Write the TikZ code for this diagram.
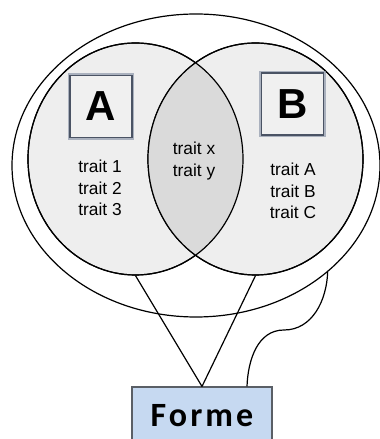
\documentclass[tikz,border=0pt]{standalone}
\usepackage{fontspec}
\setmainfont{Liberation Sans}
\newfontfamily\formefont{Carlito}
\usetikzlibrary{shapes.geometric}
\definecolor{setgray}{HTML}{EEEEEE}
\definecolor{lensgray}{HTML}{DADADA}
\definecolor{glowc}{HTML}{8E98AA}
\definecolor{framec}{HTML}{4A5364}
\definecolor{formeblue}{HTML}{C6D9F1}
\definecolor{formeline}{HTML}{5A5F66}

\begin{document}
\begin{tikzpicture}[
    x=0.75pt, y=0.75pt,
    line width=0.9pt,
    outer/.style={ellipse, draw, fill=white, inner sep=0pt, minimum width=276pt, minimum height=227.25pt},
    setc/.style={ellipse, draw, fill=setgray, inner sep=0pt, minimum width=161.25pt, minimum height=174pt},
    glowbox/.style={rectangle, preaction={draw=glowc, line width=3.6pt, opacity=0.7}, draw=framec, line width=1.1pt, fill=setgray!90!white, minimum size=46.5pt, inner sep=0pt, font=\fontsize{31.5}{31.5}\selectfont\bfseries},
    traits/.style={align=center, font=\fontsize{13}{16}\selectfont},
    forme/.style={rectangle, draw=formeline, fill=formeblue, line width=0.8pt, minimum width=105pt, minimum height=42.75pt, font=\formefont\fontsize{25.5}{25.5}\selectfont\bfseries\addfontfeature{LetterSpace=9}},
    link/.style={draw, line width=0.9pt}
]
\useasboundingbox (0,0) rectangle (379,439);
% Outer envelope
\node[outer] (env) at (196,273.5) {};
% The two sets
\node[setc] (setA) at (135.5,280) {};
\node[setc] (setB) at (255.5,280) {};
% Intersection
\begin{scope}
  \clip (setA.center) ellipse [x radius=107.5, y radius=116];
  \fill[lensgray] (setB.center) ellipse [x radius=107.5, y radius=116];
\end{scope}
\draw (setA.center) ellipse [x radius=107.5, y radius=116];
\draw (setB.center) ellipse [x radius=107.5, y radius=116];
% Labels
\node[glowbox] (boxA) at (101,332.5) {A};
\node[glowbox] (boxB) at (292.5,335) {B};
\node[traits] (trA) at (100,251) {trait 1\\trait 2\\trait 3};
\node[traits] (trAB) at (194,278) {trait x\\trait y};
\node[traits] (trB) at (293,248) {trait A\\trait B\\trait C};
% Forme
\node[forme] (forme) at (202,23.5) {Forme};
% Links
\draw[link] (setA.south) -- (forme.north);
\draw[link] (setB.south) -- (forme.north);
\coordinate (bend) at (284,109);
\draw[link] ([xshift=33.75pt]forme.north) to[out=88,in=180] (bend) to[out=0,in=-92] (env.-39);
\end{tikzpicture}
\end{document}
